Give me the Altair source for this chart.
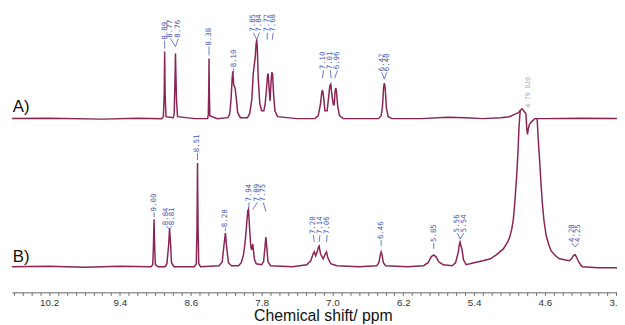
import altair as alt
import pandas as pd

# ---------------- spectrum A (ppm, intensity above its own baseline) ----------------
a_ppm = [10.65, 10.2, 9.6, 9.2, 8.93,
         8.91, 8.90, 8.895, 8.89, 8.88,
         8.80, 8.788, 8.778, 8.773, 8.768, 8.762, 8.75,
         8.55, 8.41, 8.402, 8.397, 8.394, 8.391, 8.385,
         8.30, 8.18, 8.16, 8.145, 8.133, 8.126, 8.115, 8.10, 8.088, 8.07, 8.04,
         7.96, 7.935, 7.91, 7.895, 7.885, 7.872, 7.862, 7.855, 7.848, 7.838, 7.82, 7.80,
         7.775, 7.76, 7.745, 7.732, 7.725, 7.715, 7.705, 7.695, 7.685, 7.676, 7.665, 7.65, 7.62,
         7.40, 7.20, 7.16, 7.135, 7.12, 7.112, 7.10, 7.085, 7.06, 7.045, 7.03, 7.019, 7.008,
         6.99, 6.98, 6.97, 6.963, 6.955, 6.94, 6.92, 6.88,
         6.48, 6.45, 6.435, 6.422, 6.414, 6.405, 6.39, 6.37, 6.33,
         6.0, 5.7, 5.5, 5.3, 5.1, 5.0, 4.95, 4.90, 4.87, 4.86, 4.84, 4.815,
         4.805, 4.797, 4.787, 4.775, 4.75, 4.715, 4.6, 4.2, 3.7]
a_int = [0, 0.5, -0.5, 0.5, 0,
         2, 25, 68, 25, 2,
         1, 4, 40, 66, 45, 20, 2,
         0, 0, 4, 30, 61, 30, 3,
         0, 1, 5, 20, 40, 48, 34, 31, 22, 6, 1,
         1, 5, 20, 45, 53, 62, 76, 80, 70, 40, 15, 8,
         8, 15, 30, 45, 45, 30, 18, 35, 47, 45, 25, 8, 2,
         0, 0, 3, 15, 27, 29, 22, 8, 8, 20, 33, 35, 25,
         14, 14, 28, 31, 28, 12, 3, 0,
         0, 3, 12, 32, 36, 32, 10, 2, 0,
         0, 1.5, 1, 0, 1, 2, 4, 6, 9, 10, 8, 5,
         -10, -16, -10, -6, -3, 0, 0, 0.5, 0]

# ---------------- spectrum B, left part (up to the D2O signal) ----------------
b1_ppm = [10.65, 10.2, 9.8, 9.4, 9.05,
          9.03, 9.022, 9.015, 9.008, 9.0, 8.97,
          8.89, 8.87, 8.85, 8.84, 8.83, 8.818, 8.79,
          8.56, 8.538, 8.53, 8.524, 8.518, 8.51, 8.49,
          8.28, 8.245, 8.225, 8.209, 8.195, 8.175, 8.14,
          8.06, 8.03, 8.005, 7.986, 7.97, 7.956, 7.948, 7.938, 7.922, 7.912, 7.905, 7.90, 7.892,
          7.88, 7.86, 7.80, 7.778, 7.764, 7.752, 7.74, 7.728, 7.70,
          7.45, 7.29, 7.245, 7.218, 7.205, 7.19, 7.172, 7.158, 7.15, 7.135, 7.105, 7.08, 7.067,
          7.052, 7.02, 6.95,
          6.70, 6.50, 6.475, 6.46, 6.45, 6.44, 6.425, 6.40,
          6.15, 5.97, 5.92, 5.885, 5.856, 5.83, 5.80, 5.75,
          5.65, 5.61, 5.58, 5.566, 5.559, 5.548, 5.536, 5.52, 5.49,
          5.40, 5.30, 5.217, 5.15, 5.07, 5.02, 4.994, 4.975, 4.957, 4.94, 4.92, 4.905, 4.893, 4.879]
b1_int = [0, 0.5, -0.5, 0.5, 0,
          2, 20, 48, 20, 2, 0,
          0, 3, 22, 39, 26, 4, 0,
          0, 3, 40, 105, 40, 3, 0,
          1, 5, 22, 34, 20, 4, 1,
          1, 4, 12, 25, 42, 57, 58, 42, 20, 17, 21, 23, 16,
          7, 3, 2, 5, 18, 30, 18, 5, 1,
          0, 2, 6, 13, 15, 11, 15, 20, 21, 13, 8, 13, 15,
          9, 3, 1,
          0, 1, 4, 12, 15, 12, 4, 1,
          0, 1, 4, 10, 12, 10, 5, 2,
          1, 4, 14, 23, 25, 21, 17, 7, 2,
          4, 6, 8, 12, 18, 25, 31, 38, 48, 65, 91, 115, 141, 159]

# ---------------- spectrum B, right part ----------------
b2_ppm = [4.688, 4.675, 4.66, 4.645, 4.63, 4.61, 4.585, 4.555, 4.53, 4.48, 4.436,
          4.38, 4.325, 4.30, 4.28, 4.265, 4.258, 4.245, 4.22, 4.19, 4.176, 4.0, 3.7]
b2_int = [150, 128, 108, 85, 65, 46, 31, 22, 16, 11, 8,
          7, 6, 8, 11, 12, 12, 10, 5, 1, 0, -1, -1]

# ---------------- peak labels ----------------
lab_text = ["8.89", "8.77", "8.76", "8.38", "8.10", "7.85", "7.84", "7.72", "7.68",
            "7.10", "7.01", "6.96", "6.42", "6.40",
            "9.00", "8.84", "8.81", "8.51", "8.20", "7.94", "7.89", "7.75",
            "7.20", "7.14", "7.06", "6.46", "5.85", "5.56", "5.54", "4.28", "4.25"]
lab_x = [8.895, 8.83, 8.74, 8.394, 8.115, 7.892, 7.825, 7.736, 7.669,
         7.102, 7.024, 6.943, 6.443, 6.387,
         9.015, 8.877, 8.814, 8.524, 8.209, 7.941, 7.847, 7.781,
         7.216, 7.142, 7.06, 6.45, 5.856, 5.589, 5.515, 4.295, 4.221]
lab_y = [230, 232, 232, 224, 202, 238, 238, 238, 238,
         200, 200, 200, 198, 198,
         56, 42, 42, 116, 40, 66, 66, 66,
         33, 33, 33, 28, 25, 35, 35, 25, 25]
pk_x = [8.895, 8.773, 8.773, 8.394, 8.115, 7.855, 7.855, 7.736, 7.68,
        7.112, 7.015, 6.975, 6.414, 6.414,
        9.015, 8.84, 8.84, 8.524, 8.209, 7.948, 7.90, 7.752,
        7.205, 7.15, 7.067, 6.45, 5.856, 5.559, 5.559, 4.258, 4.258]
pk_y = [221, 223, 223, 214, 196, 230, 230, 230, 230,
        191, 191, 191, 190, 190,
        50, 38, 38, 108, 36, 58, 58, 56,
        25, 25, 25, 21, 18, 28, 28, 20, 20]

solvent_text = ["4.79 D2O"]
solvent_x = [4.789]
solvent_y = [161]

panel_text = ["A)", "B)"]
panel_x = [10.61, 10.61]
panel_y = [157, 5]

tick_labels = [10.2, 9.4, 8.6, 7.8, 7.0, 6.2, 5.4, 4.6, 3.8]

# ---------------- build ----------------
OFFSET_A = 150
dfA = pd.DataFrame({"ppm": a_ppm, "i": a_int, "seg": "A"})
dfB = pd.concat([pd.DataFrame({"ppm": b1_ppm, "i": b1_int, "seg": "B1"}),
                 pd.DataFrame({"ppm": b2_ppm, "i": b2_int, "seg": "B2"})])
dfL = pd.DataFrame({"t": lab_text, "lx": lab_x, "ly": lab_y, "px": pk_x, "py": pk_y})
dfL["ly2"] = dfL["ly"] - 1
dfS = pd.DataFrame({"t": solvent_text, "lx": solvent_x, "ly": solvent_y})
dfP = pd.DataFrame({"t": panel_text, "x": panel_x, "y": panel_y})

minor_ticks = [round(10.6 - 0.1 * k, 1) for k in range(69)]
label_tenths = ",".join(str(int(round(v * 10))) for v in tick_labels)

xscale = alt.Scale(domain=[10.62, 3.786], nice=False, zero=False)
yscale = alt.Scale(domain=[-26, 260], nice=False, zero=False)

xaxis = alt.Axis(values=minor_ticks, tickCount=500,
                 labelExpr=f"indexof([{label_tenths}], round(datum.value * 10)) >= 0 ? format(datum.value, '.1f') : ''",
                 grid=False, tickSize=3, tickColor="#666", domainColor="#666",
                 labelFont="Liberation Sans Narrow, Liberation Sans", labelFontSize=10,
                 labelColor="#333", labelPadding=2, labelOverlap=False, labelFlush=False,
                 labelBound=False,
                 title="Chemical shift/ ppm", titleFont="Liberation Sans", titleFontSize=16,
                 titleFontWeight="normal", titleColor="#111", titleX=315, titleY=29,
                 titleBaseline="alphabetic", titleAlign="center")

LINE_COLOR = "#8a2454"

lineA = alt.Chart(dfA).transform_window(ppm_order="row_number()").transform_calculate(
    v=f"datum.i + {OFFSET_A}").mark_line(
    color=LINE_COLOR, strokeWidth=1.5, clip=True).encode(
    x=alt.X("ppm:Q", scale=xscale, axis=xaxis),
    y=alt.Y("v:Q", scale=yscale, axis=None),
    order="ppm_order:Q")

lineB = alt.Chart(dfB).transform_window(ppm_order="row_number()").mark_line(
    color=LINE_COLOR, strokeWidth=1.5, clip=True).encode(
    x=alt.X("ppm:Q", scale=xscale),
    y=alt.Y("i:Q", scale=yscale, axis=None),
    detail="seg:N",
    order="ppm_order:Q")

LAB_COLOR = "#4a58b0"
conn = alt.Chart(dfL).mark_rule(color=LAB_COLOR, strokeWidth=0.8).encode(
    x=alt.X("lx:Q", scale=xscale), x2="px:Q",
    y=alt.Y("ly2:Q", scale=yscale), y2="py:Q")

labels = alt.Chart(dfL).mark_text(angle=270, align="left", baseline="middle",
                                  font="DejaVu Sans Mono", fontSize=7.5,
                                  color=LAB_COLOR).encode(
    x=alt.X("lx:Q", scale=xscale), y=alt.Y("ly:Q", scale=yscale), text="t:N")

solvent = alt.Chart(dfS).mark_text(angle=270, align="left", baseline="middle",
                                   font="DejaVu Sans Mono", fontSize=6.5,
                                   color="#aaaaaa").encode(
    x=alt.X("lx:Q", scale=xscale), y=alt.Y("ly:Q", scale=yscale), text="t:N")

panels = alt.Chart(dfP).mark_text(align="left", baseline="alphabetic",
                                  font="Liberation Sans", fontSize=17,
                                  color="#111").encode(
    x=alt.X("x:Q", scale=xscale), y=alt.Y("y:Q", scale=yscale), text="t:N")

chart = alt.layer(lineA, lineB, conn, labels, solvent, panels).properties(
    width=613, height=286,
    autosize=alt.AutoSizeParams(type="none"),
    padding={"left": 4, "right": 0, "top": 0, "bottom": 31},
).configure_view(stroke=None)

chart.save("out.html", embed_options={"renderer": "svg", "actions": False})
